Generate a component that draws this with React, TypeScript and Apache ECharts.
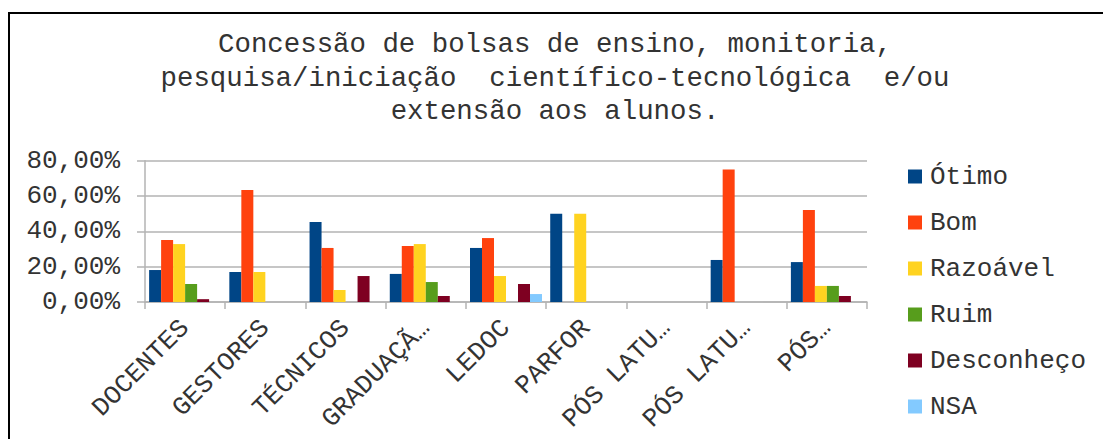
import React, { useEffect, useRef } from "react";
import * as echarts from "echarts";

const categories = ["DOCENTES", "GESTORES", "TÉCNICOS", "GRADUAÇÃ…", "LEDOC", "PARFOR", "PÓS LATU…", "PÓS LATU…", "PÓS…"];
const otimo = [18.1, 17.0, 45.3, 15.9, 30.6, 50.0, 0, 23.8, 22.6];
const bom = [35.1, 63.4, 30.6, 31.7, 36.2, 0, 0, 75.0, 52.1];
const razoavel = [32.8, 17.0, 6.8, 32.8, 14.7, 50.0, 0, 0, 9.1];
const ruim = [10.2, 0, 0, 11.3, 0, 0, 0, 0, 9.1];
const desconheco = [1.6, 0, 14.7, 3.4, 10.2, 0, 0, 0, 3.4];
const nsa = [0, 0, 0, 0, 4.5, 0, 0, 0, 0];
const seriesNames = ["Ótimo", "Bom", "Razoável", "Ruim", "Desconheço", "NSA"];
const colors = ["#004586", "#ff420e", "#ffd320", "#579d1c", "#7e0021", "#83caff"];
const titleText = "Concessão de bolsas de ensino, monitoria,\npesquisa/iniciação  científico-tecnológica  e/ou\nextensão aos alunos.";

const FONT = "'Liberation Mono', 'Courier New', monospace";
const TEXT_COLOR = "#333";

export default function App() {
  const ref = useRef<HTMLDivElement>(null);
  useEffect(() => {
    if (!ref.current) return;
    const chart = echarts.init(ref.current, null, { renderer: "svg" });
    const data = [otimo, bom, razoavel, ruim, desconheco, nsa];
    chart.setOption({
      animation: false,
      color: colors,
      graphic: [
        {
          type: "text",
          x: 555,
          y: 28,
          style: {
            text: titleText,
            align: "center",
            verticalAlign: "top",
            fontFamily: FONT,
            fontSize: 27.4,
            lineHeight: 33.5,
            fill: TEXT_COLOR,
          },
        },
      ],
      legend: {
        orient: "vertical",
        left: 908,
        top: 163.5,
        padding: 0,
        itemWidth: 14,
        itemHeight: 14,
        itemGap: 20,
        icon: "rect",
        data: seriesNames,
        textStyle: { fontFamily: FONT, fontSize: 26, lineHeight: 26, color: TEXT_COLOR, padding: [0, 0, 0, 3] },
      },
      grid: { left: 145, right: 236, top: 160.7, bottom: 137, containLabel: false },
      xAxis: {
        type: "category",
        data: categories,
        axisLine: { lineStyle: { color: "#b3b3b3", width: 1.5 } },
        axisTick: { show: true, length: 7, alignWithLabel: false, lineStyle: { color: "#b3b3b3", width: 1.5 } },
        axisLabel: { rotate: 45, interval: 0, margin: 22, fontFamily: FONT, fontSize: 26, color: TEXT_COLOR },
      },
      yAxis: {
        type: "value",
        min: 0,
        max: 80,
        interval: 20,
        axisLine: { show: true, lineStyle: { color: "#b3b3b3", width: 1.5 } },
        axisTick: { show: true, inside: false, length: 8, lineStyle: { color: "#b3b3b3", width: 1.5 } },
        splitLine: { lineStyle: { color: "#b3b3b3", width: 1.5 } },
        axisLabel: {
          margin: 25,
          fontFamily: FONT,
          fontSize: 26,
          color: TEXT_COLOR,
          formatter: (v: number) => v.toFixed(2).replace(".", ",") + "%",
        },
      },
      series: seriesNames.map((name, i) => ({
        name,
        type: "bar",
        data: data[i],
        barWidth: 12,
        barGap: "0%",
        itemStyle: { color: colors[i] },
      })),
    });
    return () => chart.dispose();
  }, []);
  return (
    <div style={{ position: "fixed", left: 0, top: 0, width: 1103, height: 439, overflow: "hidden", background: "#fff" }}>
      <div style={{ position: "absolute", left: 8, top: 12, width: 2000, height: 2000, borderTop: "2px solid #000", borderLeft: "2px solid #000" }} />
      <div ref={ref} style={{ position: "absolute", left: 0, top: 0, width: 1103, height: 439 }} />
    </div>
  );
}
